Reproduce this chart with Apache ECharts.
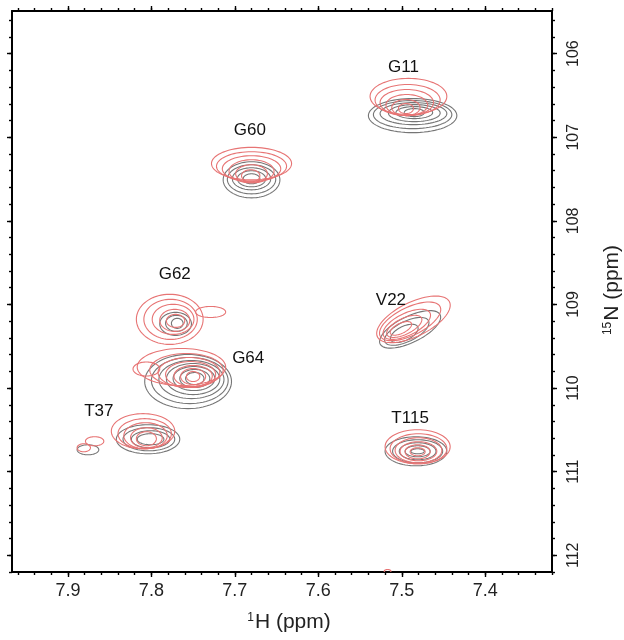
<!DOCTYPE html>
<html>
<head>
<meta charset="utf-8">
<script src="https://cdn.jsdelivr.net/npm/echarts@6/dist/echarts.min.js"></script>
<style>
html,body{margin:0;padding:0;background:#fff;}
#chart{width:624px;height:640px;}
</style>
</head>
<body>
<div id="chart"></div>
<script>
// ---------- axis ranges & tick labels ----------
const xRange = [7.32, 7.967];          // 1H (ppm), drawn inverted
const yRange = [105.49, 112.2];        // 15N (ppm), drawn inverted
const xTickLabels = [7.9, 7.8, 7.7, 7.6, 7.5, 7.4];
const yTickLabels = [106, 107, 108, 109, 110, 111, 112];

// ---------- peak labels ----------
const peakNames = ['G11', 'G60', 'G62', 'G64', 'T37', 'V22', 'T115'];
const labelH    = [7.498, 7.682, 7.772, 7.684, 7.863, 7.513, 7.490];
const labelN    = [106.161, 106.921, 108.634, 109.646, 110.274, 108.953, 110.363];

// ---------- contour rings: [1H centre, 15N centre, 1H half-width, 15N half-height] ----------
// red spectrum
const redG11 = [[7.492,106.512,0.046,0.216],[7.493,106.555,0.039,0.186],[7.494,106.585,0.032,0.156],[7.494,106.615,0.025,0.126],[7.495,106.645,0.017,0.096],[7.495,106.657,0.009,0.060]];
const redG60 = [[7.680,107.315,0.048,0.194],[7.680,107.347,0.042,0.174],[7.680,107.377,0.035,0.156],[7.680,107.407,0.027,0.138],[7.680,107.437,0.019,0.108],[7.681,107.461,0.011,0.072]];
const redG62 = [[7.778,109.178,0.040,0.300],[7.777,109.178,0.032,0.240],[7.774,109.178,0.025,0.180],[7.772,109.190,0.018,0.132],[7.771,109.196,0.011,0.078],[7.729,109.090,0.018,0.066]];
const redG64 = [[7.764,109.748,0.053,0.222],[7.758,109.784,0.044,0.198],[7.755,109.814,0.037,0.180],[7.753,109.838,0.030,0.156],[7.750,109.856,0.023,0.126],[7.750,109.862,0.015,0.096],[7.750,109.862,0.008,0.060],[7.806,109.772,0.016,0.084]];
const redT37 = [[7.810,110.516,0.038,0.210],[7.808,110.546,0.032,0.180],[7.807,110.570,0.026,0.156],[7.806,110.594,0.019,0.120],[7.806,110.606,0.012,0.084],[7.868,110.636,0.011,0.054],[7.881,110.714,0.008,0.048]];
const redV22 = [[7.486,109.178,0.048,0.204],[7.490,109.202,0.040,0.168],[7.494,109.238,0.031,0.132],[7.497,109.262,0.023,0.096],[7.501,109.286,0.014,0.060]];
const redT115 = [[7.481,110.702,0.039,0.204],[7.480,110.726,0.034,0.180],[7.480,110.744,0.028,0.150],[7.480,110.756,0.022,0.114],[7.481,110.762,0.015,0.084],[7.481,110.762,0.009,0.048]];
const redNoise = [[7.517,112.19,0.004,0.02]];
// gray spectrum
const grayG11 = [[7.487,106.741,0.053,0.204],[7.487,106.729,0.047,0.168],[7.486,106.717,0.040,0.132],[7.485,106.711,0.031,0.102],[7.485,106.705,0.022,0.072],[7.485,106.705,0.012,0.048]];
const grayG60 = [[7.680,107.509,0.034,0.216],[7.680,107.503,0.029,0.174],[7.680,107.497,0.023,0.132],[7.680,107.497,0.017,0.096],[7.680,107.497,0.010,0.060]];
const grayG62 = [[7.771,109.232,0.019,0.138],[7.770,109.226,0.013,0.096],[7.769,109.226,0.007,0.060]];
const grayG64 = [[7.756,109.922,0.052,0.324],[7.754,109.910,0.046,0.276],[7.752,109.898,0.039,0.228],[7.750,109.892,0.032,0.186],[7.749,109.886,0.025,0.144],[7.748,109.886,0.018,0.108],[7.748,109.886,0.011,0.072]];
const grayT37 = [[7.804,110.612,0.038,0.174],[7.803,110.612,0.031,0.138],[7.801,110.612,0.023,0.102],[7.801,110.612,0.016,0.066],[7.876,110.738,0.013,0.060]];
const grayV22 = [[7.490,109.298,0.040,0.156],[7.494,109.322,0.029,0.120],[7.497,109.346,0.018,0.084]];
const grayT115 = [[7.483,110.756,0.037,0.174],[7.481,110.756,0.030,0.138],[7.481,110.756,0.022,0.102],[7.481,110.756,0.015,0.066],[7.481,110.756,0.008,0.030]];

// ---------- styles ----------
const RED = '#e77474';
const GRAY = '#767676';
const FONT = 'Arial, "Liberation Sans", Helvetica, sans-serif';
const tiltDeg = { V22: 26 };   // visual tilt of elongated peaks (pixel space)

const redSets  = { G11: redG11, G60: redG60, G62: redG62, G64: redG64, T37: redT37, V22: redV22, T115: redT115, noise: redNoise };
const graySets = { G11: grayG11, G60: grayG60, G62: grayG62, G64: grayG64, T37: grayT37, V22: grayV22, T115: grayT115 };

function makeRenderer(color, tilt) {
  const th = (tilt || 0) * Math.PI / 180;
  const ct = Math.cos(th), st = Math.sin(th);
  return function (params, api) {
    const c = api.coord([api.value(0), api.value(1)]);
    const s = api.size([api.value(2), api.value(3)]);
    const rx = s[0], ry = s[1];
    const pts = [];
    const n = 72;
    for (let i = 0; i < n; i++) {
      const t = (i / n) * Math.PI * 2;
      const a = rx * Math.cos(t), b = ry * Math.sin(t);
      pts.push([c[0] + a * ct + b * st, c[1] - a * st + b * ct]);
    }
    return {
      type: 'polygon',
      shape: { points: pts },
      style: { fill: 'none', stroke: color, lineWidth: 1.1 }
    };
  };
}

const series = [];
Object.keys(graySets).forEach(function (k) {
  series.push({
    type: 'custom', name: 'gray-' + k, xAxisIndex: 0, yAxisIndex: 0, clip: true,
    renderItem: makeRenderer(GRAY, tiltDeg[k]), data: graySets[k], silent: true,
    encode: { x: 0, y: 1 }
  });
});
Object.keys(redSets).forEach(function (k) {
  series.push({
    type: 'custom', name: 'red-' + k, xAxisIndex: 0, yAxisIndex: 0, clip: true,
    renderItem: makeRenderer(RED, tiltDeg[k]), data: redSets[k], silent: true,
    encode: { x: 0, y: 1 }
  });
});
series.push({
  type: 'scatter', xAxisIndex: 0, yAxisIndex: 0, symbolSize: 0, silent: true,
  itemStyle: { opacity: 1 },
  data: peakNames.map(function (nm, i) { return { value: [labelH[i], labelN[i]], name: nm }; }),
  label: { show: true, position: 'inside', formatter: '{b}', color: '#111', fontSize: 17, fontFamily: FONT }
});

// minor ticks (every 0.02 ppm in 1H, every 0.2 ppm in 15N)
const xMinor = [];
for (let i = 0; i <= 40; i++) { const v = Math.round((7.30 + i * 0.02) * 100) / 100; if (v >= xRange[0] && v <= xRange[1]) xMinor.push(v); }
const yMinor = [];
for (let i = 0; i <= 40; i++) { const v = Math.round((105.4 + i * 0.2) * 10) / 10; if (v >= yRange[0] && v <= yRange[1]) yMinor.push(v); }

const lineStyle = { color: '#000', width: 2 };
function xAxisDef(pos, ticks, len, showLabel, showLine) {
  return {
    type: 'value', position: pos, min: xRange[0], max: xRange[1], inverse: true,
    axisLine: { show: showLine, onZero: false, lineStyle: lineStyle },
    axisTick: { show: true, customValues: ticks, length: len, lineStyle: { color: '#000', width: 1.4 } },
    axisLabel: showLabel ? { show: true, customValues: xTickLabels, formatter: function (v) { return v.toFixed(1); }, fontSize: 18, color: '#222', fontFamily: FONT, margin: 10 } : { show: false },
    splitLine: { show: false }
  };
}
function yAxisDef(pos, ticks, len, showLabel, showLine) {
  return {
    type: 'value', position: pos, min: yRange[0], max: yRange[1], inverse: true,
    axisLine: { show: showLine, onZero: false, lineStyle: lineStyle },
    axisTick: { show: true, customValues: ticks, length: len, lineStyle: { color: '#000', width: 1.4 } },
    axisLabel: showLabel ? { show: true, customValues: yTickLabels, rotate: 90, formatter: function (v) { return String(Math.round(v)); }, fontSize: 16, color: '#222', fontFamily: FONT, margin: 14 } : { show: false },
    splitLine: { show: false }
  };
}

const option = {
  backgroundColor: '#ffffff',
  animation: false,
  grid: { left: 12, right: 72, top: 11, bottom: 68, containLabel: false },
  xAxis: [
    xAxisDef('bottom', xTickLabels, 5, true, true),
    xAxisDef('bottom', xMinor, 3, false, false),
    xAxisDef('top', xTickLabels, 5, false, true),
    xAxisDef('top', xMinor, 3, false, false)
  ],
  yAxis: [
    yAxisDef('right', yTickLabels, 5, true, true),
    yAxisDef('right', yMinor, 3, false, false),
    yAxisDef('left', yTickLabels, 5, false, true),
    yAxisDef('left', yMinor, 3, false, false)
  ],
  graphic: [
    {
      type: 'text', silent: true, x: 289, y: 622,
      style: {
        text: '{s|1}{m|H (ppm)}', align: 'center', verticalAlign: 'middle',
        rich: {
          s: { fontSize: 12, fontFamily: FONT, fill: '#222', padding: [0, 1, 9, 0] },
          m: { fontSize: 21, fontFamily: FONT, fill: '#222' }
        }
      }
    },
    {
      type: 'text', silent: true, rotation: Math.PI / 2, x: 612, y: 290,
      style: {
        text: '{s|15}{m|N (ppm)}', align: 'center', verticalAlign: 'middle',
        rich: {
          s: { fontSize: 12, fontFamily: FONT, fill: '#222', padding: [0, 1, 9, 0] },
          m: { fontSize: 21, fontFamily: FONT, fill: '#222' }
        }
      }
    }
  ],
  series: series
};

const chart = echarts.init(document.getElementById('chart'), null, { renderer: 'canvas' });
chart.setOption(option);
</script>
</body>
</html>
